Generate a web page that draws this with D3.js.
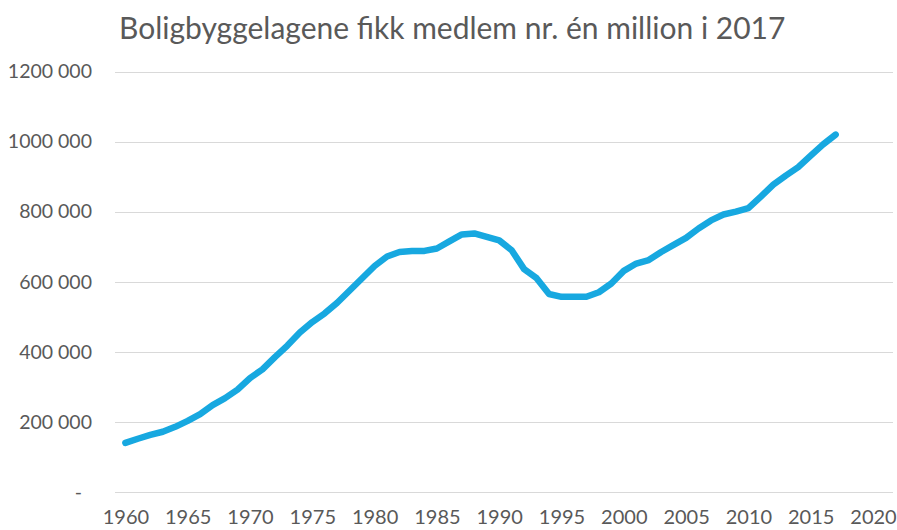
<!DOCTYPE html>
<html>
<head>
<meta charset="utf-8">
<script src="https://cdn.jsdelivr.net/npm/d3@7"></script>
<style>
  body { margin: 0; background: #fff; }
  text { font-family: Lato, "Open Sans", sans-serif; fill: #595959; }
</style>
</head>
<body>
<div id="chart"></div>
<script>
// members of the housing co-ops, one value per year (thousands)
let years = d3.range(1960, 2018);
let members = [
  140, 152, 163, 172, 186, 203, 222, 248, 268, 292,
  325, 350, 385, 418, 455, 485, 510, 540, 575, 610,
  645, 672, 685, 688, 688, 695, 715, 735, 738, 728,
  718, 690, 636, 610, 565, 557, 557, 557, 570, 595,
  631, 652, 662, 685, 705, 725, 752, 775, 792, 800,
  810, 843, 877, 903, 927, 960, 992, 1020
].map(v => v * 1000);

let yTicks = [0, 200000, 400000, 600000, 800000, 1000000, 1200000];
let yTickLabels = ["-", "200 000", "400 000", "600 000", "800 000", "1000 000", "1200 000"];
let xTicks = [1960, 1965, 1970, 1975, 1980, 1985, 1990, 1995, 2000, 2005, 2010, 2015, 2020];
let title = "Boligbyggelagene fikk medlem nr. én million i 2017";

let width = 897;
let height = 530;
let plotLeft = 115, plotRight = 893;

let svg = d3.select("#chart")
  .append("svg")
  .attr("width", width).attr("height", height);

let xScale = d3.scaleLinear()
  .domain([1960, 2020])
  .range([125.4, 873]);

let yScale = d3.scaleLinear()
  .domain([0, 1200000])
  .range([492, 71.5]);

// gridlines
svg.append("g")
  .selectAll("line")
  .data(yTicks).enter()
  .append("line")
  .attr("x1", plotLeft).attr("x2", plotRight)
  .attr("y1", d => Math.round(yScale(d)) + 0.5)
  .attr("y2", d => Math.round(yScale(d)) + 0.5)
  .attr("stroke", "#d9d9d9")
  .attr("stroke-width", 1);

// y axis labels
let yAxis = g => g
  .attr("transform", `translate(92,0)`)
  .call(d3.axisLeft(yScale).tickValues(yTicks)
    .tickFormat((d, i) => yTickLabels[i]).tickSize(0).tickPadding(0))
  .call(g => g.select(".domain").remove());
let yg = svg.append("g").attr("id", "y_axis").call(yAxis);
yg.selectAll("text")
  .style("font-size", "19.5px")
  .attr("fill", "#595959")
  .attr("font-family", "Lato, 'Open Sans', sans-serif");
// accounting-style dash for zero sits a bit left
yg.selectAll(".tick").filter(d => d === 0).select("text").attr("x", -10);

// x axis labels
let xAxis = g => g
  .attr("transform", `translate(0,510)`)
  .call(d3.axisBottom(xScale).tickValues(xTicks)
    .tickFormat(d3.format("d")).tickSize(0).tickPadding(0))
  .call(g => g.select(".domain").remove());
svg.append("g").attr("id", "x_axis").call(xAxis)
  .selectAll("text")
  .style("font-size", "20px")
  .attr("fill", "#595959")
  .attr("font-family", "Lato, 'Open Sans', sans-serif");

// the line
let line = d3.line()
  .x((d, i) => xScale(years[i]))
  .y(d => yScale(d));

svg.append("path")
  .datum(members)
  .attr("d", line)
  .attr("fill", "none")
  .attr("stroke", "#17a8e0")
  .attr("stroke-width", 6.5)
  .attr("stroke-linecap", "round")
  .attr("stroke-linejoin", "round");

// title
svg.append("text")
  .attr("x", 119)
  .attr("y", 39)
  .style("font-size", "30px")
  .text(title);
</script>
</body>
</html>
